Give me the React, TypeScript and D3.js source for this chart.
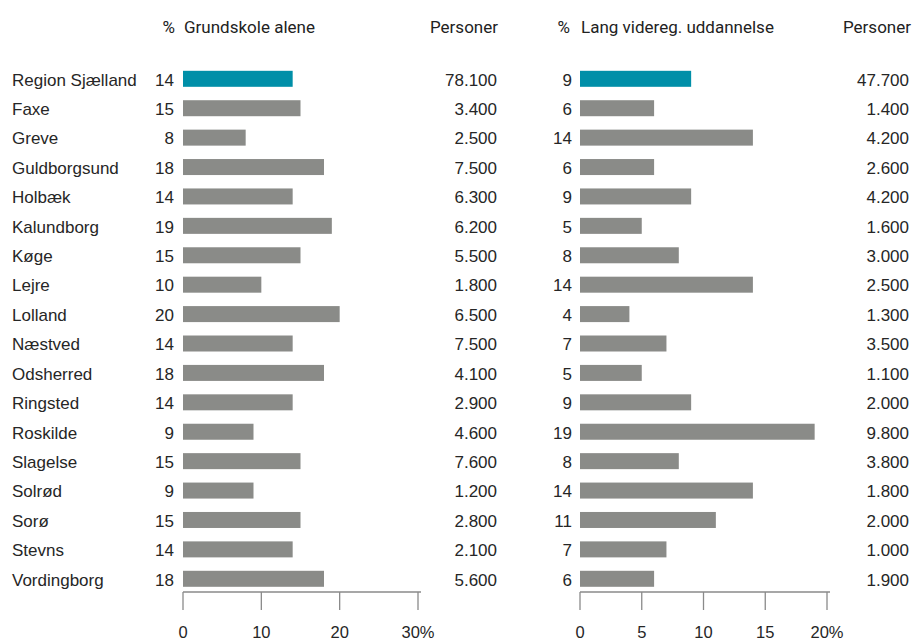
import React from "react";
import * as d3 from "d3";

// Kommuner i Region Sjælland (første række er regionen samlet)
const areas = [
  "Region Sjælland", "Faxe", "Greve", "Guldborgsund", "Holbæk", "Kalundborg",
  "Køge", "Lejre", "Lolland", "Næstved", "Odsherred", "Ringsted", "Roskilde",
  "Slagelse", "Solrød", "Sorø", "Stevns", "Vordingborg",
];

// Andel med grundskole som højeste uddannelse (%) og antal personer
const basicPct = [14, 15, 8, 18, 14, 19, 15, 10, 20, 14, 18, 14, 9, 15, 9, 15, 14, 18];
const basicPersons = [78100, 3400, 2500, 7500, 6300, 6200, 5500, 1800, 6500, 7500, 4100, 2900, 4600, 7600, 1200, 2800, 2100, 5600];

// Andel med lang videregående uddannelse (%) og antal personer
const longPct = [9, 6, 14, 6, 9, 5, 8, 14, 4, 7, 5, 9, 19, 8, 14, 11, 7, 6];
const longPersons = [47700, 1400, 4200, 2600, 4200, 1600, 3000, 2500, 1300, 3500, 1100, 2000, 9800, 3800, 1800, 2000, 1000, 1900];

const basicTicks = [0, 10, 20, 30];
const longTicks = [0, 5, 10, 15, 20];

const W = 913;
const H = 642;
const TEXT = "#262626";
const GREY = "#8a8b88";
const TEAL = "#008fa8";
const AXIS = "#8a8a8a";
const LABEL_FONT = "'Liberation Sans', Arial, sans-serif";
const HEAD_FONT = "Roboto, 'DejaVu Sans', sans-serif";
const FS = 17;

const fmt = d3.formatLocale({ decimal: ",", thousands: ".", grouping: [3], currency: ["", " kr."] }).format(",d");

export default function App() {
  const y = d3
    .scaleBand<string>()
    .domain(areas)
    .range([64.1, 593.5])
    .paddingInner(0.456)
    .paddingOuter(0.228);

  const xBasic = d3.scaleLinear().domain([0, 30]).range([183, 418]);
  const xLong = d3.scaleLinear().domain([0, 20]).range([580, 827]);

  const axisY = 592;
  const tickLen = 18;
  const tickLabelY = 637.5;
  const headY = 33;

  const rowMid = (a: string) => (y(a) as number) + y.bandwidth() / 2;

  const panel = (
    x: d3.ScaleLinear<number, number>,
    pct: number[],
    persons: number[],
    ticks: number[],
    pctRight: number,
    personsRight: number,
    axisEnd: number,
    key: string
  ) => (
    <g key={key}>
      {areas.map((a, i) => (
        <g key={a}>
          <rect
            x={x(0)}
            y={y(a)}
            width={x(pct[i]) - x(0)}
            height={y.bandwidth()}
            fill={i === 0 ? TEAL : GREY}
          />
          <text
            x={pctRight}
            y={rowMid(a)}
            dy="0.4em"
            textAnchor="end"
            fontFamily={LABEL_FONT}
            fontSize={FS}
            fill={TEXT}
          >
            {pct[i]}
          </text>
          <text
            x={personsRight}
            y={rowMid(a)}
            dy="0.4em"
            textAnchor="end"
            fontFamily={LABEL_FONT}
            fontSize={FS}
            fill={TEXT}
          >
            {fmt(persons[i])}
          </text>
        </g>
      ))}
      <line x1={x(0)} x2={axisEnd} y1={axisY} y2={axisY} stroke={AXIS} strokeWidth={1.5} />
      {ticks.map((t, i) => (
        <g key={t}>
          <line x1={x(t)} x2={x(t)} y1={axisY} y2={axisY + tickLen} stroke={AXIS} strokeWidth={1.3} />
          <text
            x={x(t)}
            y={tickLabelY}
            textAnchor="middle"
            fontFamily={LABEL_FONT}
            fontSize={16.5}
            fill={TEXT}
          >
            {i === ticks.length - 1 ? `${t}%` : t}
          </text>
        </g>
      ))}
    </g>
  );

  return (
    <svg
      width={W}
      height={H}
      style={{ position: "absolute", left: 0, top: 0, background: "#fff" }}
    >
      {/* Kolonneoverskrifter */}
      <g fontFamily={HEAD_FONT} fontSize={FS} fill="#222">
        <text x={175} y={headY} textAnchor="end">%</text>
        <text x={184} y={headY}>Grundskole alene</text>
        <text x={498} y={headY} textAnchor="end">Personer</text>
        <text x={570} y={headY} textAnchor="end">%</text>
        <text x={581} y={headY}>Lang videreg. uddannelse</text>
        <text x={911} y={headY} textAnchor="end">Personer</text>
      </g>

      {/* Områdenavne */}
      {areas.map((a) => (
        <text
          key={a}
          x={12}
          y={rowMid(a)}
          dy="0.4em"
          fontFamily={LABEL_FONT}
          fontSize={FS}
          fill={TEXT}
        >
          {a}
        </text>
      ))}

      {panel(xBasic, basicPct, basicPersons, basicTicks, 174, 497, 421, "basic")}
      {panel(xLong, longPct, longPersons, longTicks, 572, 909, 830, "long")}
    </svg>
  );
}
